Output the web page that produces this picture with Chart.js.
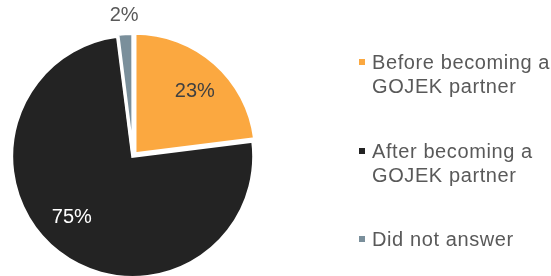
<!DOCTYPE html>
<html>
<head>
<meta charset="utf-8">
<script src="https://cdn.jsdelivr.net/npm/chart.js@4/dist/chart.umd.min.js"></script>
<style>
  html, body { margin: 0; padding: 0; background: #fff; }
  #wrap { position: relative; width: 551px; height: 276px; overflow: hidden; }
  #pie { position: absolute; left: 0; top: 0; }
  .legend-item {
    position: absolute;
    left: 357px;
    font: 20px 'Liberation Sans', Arial, sans-serif;
    line-height: 24px;
    letter-spacing: 0.6px;
    color: #595959;
    white-space: nowrap;
  }
  .legend-item .box {
    position: absolute;
    left: 2px;
    top: 9px;
    width: 6px;
    height: 6px;
  }
  .legend-item .txt { margin-left: 15px; }
</style>
</head>
<body>
<div id="wrap">
  <canvas id="pie" width="551" height="276"></canvas>
</div>
<script>
const categories = ['Before becoming a GOJEK partner', 'After becoming a GOJEK partner', 'Did not answer']
const legendLines = [
  ['Before becoming a', 'GOJEK partner'],
  ['After becoming a', 'GOJEK partner'],
  ['Did not answer']
]
const shares = [23, 75, 2]
const valueLabels = ['23%', '75%', '2%']

const sliceColors = ['#FBA840', '#232323', '#7A8F9B']
const labelColors = ['#404040', '#ffffff', '#595959']
// label distance from centre (fraction of radius) and small angle nudge (deg)
const labelRadius = [0.74, 0.72, 1.17]
const labelNudge = [2.5, 7, 0]
const legendTops = [50, 139, 227]

const pieLabels = {
  id: 'pieLabels',
  afterDatasetsDraw(chart) {
    const ctx = chart.ctx
    const meta = chart.getDatasetMeta(0)
    ctx.save()
    ctx.font = "20px 'Liberation Sans', Arial, sans-serif"
    ctx.textAlign = 'center'
    ctx.textBaseline = 'middle'
    meta.data.forEach((arc, i) => {
      const mid = (arc.startAngle + arc.endAngle) / 2 + labelNudge[i] * Math.PI / 180
      const r = arc.outerRadius * labelRadius[i]
      ctx.fillStyle = labelColors[i]
      ctx.fillText(valueLabels[i], arc.x + Math.cos(mid) * r, arc.y + Math.sin(mid) * r)
    })
    ctx.restore()
  }
}

const chart = new Chart(document.getElementById('pie').getContext('2d'), {
  type: 'pie',
  data: {
    labels: categories,
    datasets: [{
      data: shares,
      backgroundColor: sliceColors,
      borderColor: '#ffffff',
      borderWidth: 3,
      borderJoinStyle: 'miter',
      offset: [12, 2, 4],
      radius: 120.5
    }]
  },
  options: {
    responsive: false,
    animation: false,
    events: [],
    layout: {
      padding: { left: 0, right: 285, top: 36, bottom: 0 }
    },
    plugins: {
      legend: { display: false },
      tooltip: { enabled: false }
    }
  },
  plugins: [pieLabels]
})

// legend as html text
const wrap = document.getElementById('wrap')
legendLines.forEach((lines, i) => {
  const item = document.createElement('div')
  item.className = 'legend-item'
  item.style.top = legendTops[i] + 'px'
  const box = document.createElement('span')
  box.className = 'box'
  box.style.background = sliceColors[i]
  item.appendChild(box)
  const txt = document.createElement('div')
  txt.className = 'txt'
  txt.innerHTML = lines.join('<br>')
  item.appendChild(txt)
  wrap.appendChild(item)
})
</script>
</body>
</html>
